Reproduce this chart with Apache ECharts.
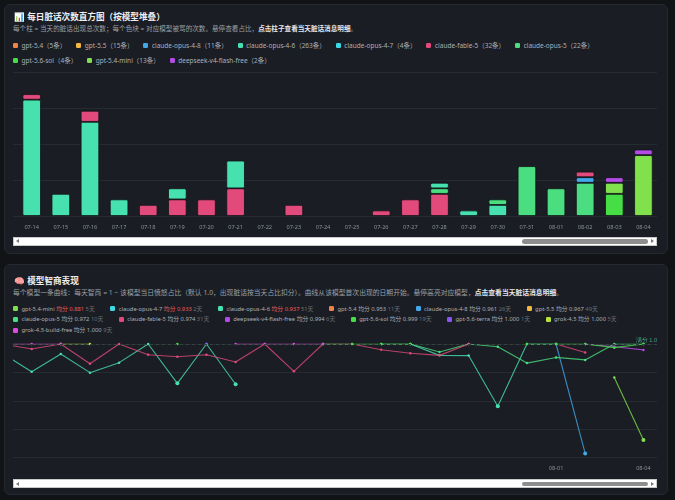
<!DOCTYPE html>
<html>
<head>
<meta charset="utf-8" />
<title>每日脏话与模型智商</title>
<script src="https://cdn.jsdelivr.net/npm/echarts@6/dist/echarts.min.js"></script>
<style>
  body { margin: 0; width: 675px; height: 500px; background: #111317; position: relative; overflow: hidden;
         font-family: "Noto Sans", "Noto Sans CJK SC", sans-serif; }
  .panel { position: absolute; left: 4px; width: 662px; background: #1a1d23; border: 1px solid #252930; border-radius: 6px; }
  .title { position: absolute; left: 14px; font-size: 8.6px; line-height: 10px; font-weight: bold; color: #eceef1; white-space: nowrap; }
  .sub { position: absolute; left: 13px; font-size: 6.6px; line-height: 8px; color: #9aa0a8; white-space: nowrap; }
  .sub b { color: #e6e8eb; }
  .legend { position: absolute; left: 13px; width: 644px; display: flex; flex-wrap: wrap; color: #aab0b8; }
  .legend .it { display: inline-flex; align-items: center; white-space: nowrap; }
  .legend .sq { width: 5px; height: 5px; border-radius: 1.3px; margin-right: 3.5px; }
  .legend .bad { color: #ef5a5a; }
  .legend .days { color: #6a7078; }
  .clip { position: absolute; left: 13px; width: 644px; overflow: hidden; }
  .chart { position: absolute; left: -30px; top: 0; width: 680px; }
  .sb { position: absolute; left: 13px; width: 644px; background: #fff; border: 1px solid #c9c9c9; box-sizing: border-box; }
  .sb .thumb { position: absolute; left: 508px; width: 126px; background: #8e8e8e; border-radius: 3px; }
  .sb .al { position: absolute; left: 2px; width: 0; height: 0; border-top: 2.5px solid transparent; border-bottom: 2.5px solid transparent; border-right: 3px solid #777; }
  .sb .ar { position: absolute; right: 2px; width: 0; height: 0; border-top: 2.5px solid transparent; border-bottom: 2.5px solid transparent; border-left: 3px solid #777; }
</style>
</head>
<body>
  <div class="panel" style="top:4px; height:248px;"></div>
  <div class="panel" style="top:264px; height:229px;"></div>

  <div class="title" style="top:11.7px;">📊 每日脏话次数直方图（按模型堆叠）</div>
  <div class="sub" style="top:25.3px;">每个柱 = 当天的脏话出现总次数；每个色块 = 对应模型被骂的次数。悬停查看占比，<b>点击柱子查看当天脏话消息明细</b>。</div>
  <div class="legend" id="barLegend" style="top:37.5px; line-height:15px; font-size:6.5px;"></div>
  <div class="clip" style="top:62px; height:172px;"><div class="chart" id="bar" style="height:172px;"></div></div>
  <div class="sb" style="top:236.5px; height:9.5px;"><div class="al" style="top:1.7px"></div><div class="thumb" style="top:1.8px; height:4.5px;"></div><div class="ar" style="top:1.7px"></div></div>

  <div class="title" style="top:275.7px;">🧠 模型智商表现</div>
  <div class="sub" style="top:289.3px; font-size:6.8px;">每个模型一条曲线：每天智商 = 1 − 该模型当日愤怒占比（默认 1.0，出现脏话按当天占比扣分）。曲线从该模型首次出现的日期开始。悬停高亮对应模型，<b>点击查看当天脏话消息明细</b>。</div>
  <div class="legend" id="lineLegend" style="top:303.6px; line-height:10.7px; font-size:5.8px;"></div>
  <div class="clip" style="top:332px; height:146px;"><div class="chart" id="line" style="height:146px;"></div></div>
  <div class="sb" style="top:479px; height:9px;"><div class="al" style="top:1.5px"></div><div class="thumb" style="top:1.6px; height:4.5px;"></div><div class="ar" style="top:1.5px"></div></div>

<script>
  // days (07-13 sits just off the left edge, the view is scrolled to the end)
  var dates = ['07-13', '07-14', '07-15', '07-16', '07-17', '07-18', '07-19', '07-20', '07-21', '07-22', '07-23', '07-24',
               '07-25', '07-26', '07-27', '07-28', '07-29', '07-30', '07-31', '08-01', '08-02', '08-03', '08-04']

  var modelNames = ['gpt-5.4', 'gpt-5.5', 'claude-opus-4-8', 'claude-opus-4-6', 'claude-opus-4-7', 'claude-fable-5',
                    'claude-opus-5', 'gpt-5.6-sol', 'gpt-5.4-mini', 'deepseek-v4-flash-free']
  var modelColors = ['#f0834a', '#f4b740', '#42a8e8', '#47e1b0', '#3fd9e4', '#e14a7a',
                     '#4ade80', '#45df45', '#80e14c', '#b44be6']
  var modelTotals = [5, 15, 11, 263, 4, 32, 22, 4, 13, 2]

  // swear counts per day
  var gpt54Count    = [null, 0, 0, 0, 0, 0, 0, 0, 0, 0, 0, 0, 0, 0, 0, 0, 0, 0, 0, 0, 0, 0, 0]
  var gpt55Count    = [null, 0, 0, 0, 0, 0, 0, 0, 0, 0, 0, 0, 0, 0, 0, 0, 0, 0, 0, 0, 0, 0, 0]
  var opus48Count   = [null, 0, 0, 0, 0, 0, 0, 0, 0, 0, 0, 0, 0, 0, 0, 0, 0, 0, 0, 0, 1, 0, 0]
  var opus46Count   = [null, 21, 4, 17, 3, 0, 2, 0, 5, 0, 0, 0, 0, 0, 0, 1, 1, 2, 0, 0, 0, 0, 0]
  var opus47Count   = [null, 0, 0, 0, 0, 0, 0, 0, 0, 0, 0, 0, 0, 0, 0, 0, 0, 0, 0, 0, 0, 0, 0]
  var fableCount    = [null, 1, 0, 2, 0, 2, 3, 3, 5, 0, 2, 0, 0, 1, 3, 4, 0, 0, 0, 0, 1, 0, 0]
  var opus5Count    = [null, 0, 0, 0, 0, 0, 0, 0, 0, 0, 0, 0, 0, 0, 0, 1, 0, 1, 9, 5, 6, 0, 0]
  var solCount      = [null, 0, 0, 0, 0, 0, 0, 0, 0, 0, 0, 0, 0, 0, 0, 0, 0, 0, 0, 0, 0, 4, 0]
  var miniCount     = [null, 0, 0, 0, 0, 0, 0, 0, 0, 0, 0, 0, 0, 0, 0, 0, 0, 0, 0, 0, 0, 2, 11]
  var deepseekCount = [null, 0, 0, 0, 0, 0, 0, 0, 0, 0, 0, 0, 0, 0, 0, 0, 0, 0, 0, 0, 0, 1, 1]

  var counts = [gpt54Count, gpt55Count, opus48Count, opus46Count, opus47Count, fableCount,
                opus5Count, solCount, miniCount, deepseekCount]

  // IQ chart, legend is sorted by average
  var iqNames  = ['gpt-5.4-mini', 'claude-opus-4-7', 'claude-opus-4-6', 'gpt-5.4', 'claude-opus-4-8', 'gpt-5.5', 'claude-opus-5',
                  'claude-fable-5', 'deepseek-v4-flash-free', 'gpt-5.6-sol', 'gpt-5.6-terra', 'grok-4.5', 'grok-4.5-build-free']
  var iqColors = ['#80e14c', '#3fd9e4', '#47e1b0', '#f0834a', '#42a8e8', '#f4b740', '#4ade80',
                  '#e14a7a', '#b44be6', '#45df45', '#8b55f0', '#bce23c', '#df4be0']
  var iqAvg    = [0.881, 0.933, 0.937, 0.953, 0.961, 0.967, 0.972, 0.974, 0.994, 0.999, 1.000, 1.000, 1.000]
  var iqDays   = [5, 2, 51, 11, 26, 49, 10, 31, 6, 19, 1, 5, 9]

  var miniIq      = [null, null, null, null, null, null, null, null, null, null, null, null, null, null, null, null, null, null, null, null, null, 0.853, 0.578]
  var opus47Iq    = [null, null, null, null, null, null, null, null, null, null, null, null, null, null, null, null, null, null, null, null, null, null, null]
  var opus46Iq    = [0.958, 0.878, 0.956, 0.874, 0.918, 1.0, 0.827, 1.0, 0.823, null, null, null, null, null, 1.0, 0.950, 0.949, 0.726, 1.0, 1.0, null, null, null]
  var gpt54Iq     = [null, null, null, null, null, null, null, null, null, null, null, null, null, null, null, null, null, null, null, null, null, null, null]
  var opus48Iq    = [null, null, null, null, null, null, null, null, null, null, null, null, null, null, null, null, null, null, null, 1.0, 0.519, null, null]
  var gpt55Iq     = [null, null, null, null, null, null, null, null, null, null, null, null, null, null, null, null, null, null, null, null, null, null, null]
  var opus5Iq     = [null, null, null, null, null, null, null, null, null, null, null, null, null, 1.0, 1.0, 0.965, 1.0, 0.988, 0.916, 0.941, 0.930, 1.0, 1.0]
  var fableIq     = [1.0, 0.978, 1.0, 0.913, 1.0, 0.953, 0.944, 0.953, 0.921, 1.0, 0.880, 1.0, 1.0, 0.975, 0.959, 0.950, 1.0, null, null, 1.0, 0.963, null, null]
  var deepseekIq  = [null, null, null, null, null, null, null, null, null, null, null, null, null, null, null, null, null, null, null, null, 1.0, 0.988, 0.974]
  var solIq       = [null, null, null, null, null, null, 1.0, null, null, null, null, 1.0, 1.0, 1.0, 1.0, null, null, null, 1.0, 1.0, 1.0, 0.984, 1.0]
  var terraIq     = [null, null, null, null, null, null, null, 1.0, null, null, null, null, null, null, null, null, null, null, null, null, null, null, null]
  var grok45Iq    = [null, null, 1.0, 1.0, null, null, null, null, null, null, null, null, null, null, null, null, null, null, null, null, null, null, null]
  var buildFreeIq = [1.0, 1.0, 1.0, null, null, null, null, null, 1.0, 1.0, 1.0, 1.0, null, null, null, null, null, null, null, null, null, null, null]

  var iqData = [miniIq, opus47Iq, opus46Iq, gpt54Iq, opus48Iq, gpt55Iq, opus5Iq, fableIq, deepseekIq, solIq, terraIq, grok45Iq, buildFreeIq]

  // legends
  var barLegend = document.getElementById('barLegend')
  modelNames.forEach(function (n, i) {
    barLegend.innerHTML += '<span class="it" style="margin-right:10px"><span class="sq" style="background:' + modelColors[i] + '"></span>' +
      n + '（' + modelTotals[i] + '条）</span>'
  })
  var lineLegend = document.getElementById('lineLegend')
  iqNames.forEach(function (n, i) {
    lineLegend.innerHTML += '<span class="it" style="margin-right:15.5px"><span class="sq" style="background:' + iqColors[i] + '"></span>' +
      n + '&nbsp;<span class="' + (iqAvg[i] < 0.95 ? 'bad' : '') + '">均分 ' + iqAvg[i].toFixed(3) + '</span>&nbsp;<span class="days">' + iqDays[i] + '天</span></span>'
  })

  // stacked bars: each day is sorted, biggest block at the bottom
  var layers = []
  dates.forEach(function (d, i) {
    var today = []
    counts.forEach(function (arr, m) { if (arr[i] > 0) today.push(m) })
    today.sort(function (a, b) { return counts[b][i] - counts[a][i] || modelTotals[a] - modelTotals[b] })
    today.forEach(function (m, j) {
      if (!layers[j]) layers[j] = dates.map(function () { return null })
      layers[j][i] = { value: counts[m][i], name: modelNames[m], itemStyle: { color: modelColors[m] } }
    })
  })

  var barSeries = layers.map(function (l) {
    return {
      type: 'bar', stack: 'total', data: l, barWidth: 18.5,
      itemStyle: { borderColor: '#121419', borderWidth: 0.8, borderRadius: 1.5 }
    }
  })

  var axisLabelStyle = { color: '#8c9299', fontSize: 5.6, fontFamily: 'Noto Sans' }

  var barChart = echarts.init(document.getElementById('bar'))
  barChart.setOption({
    animation: false,
    grid: { left: 5, right: 5, top: 10, bottom: 18 },
    xAxis: {
      type: 'category', data: dates,
      axisLine: { show: false }, axisTick: { show: false },
      axisLabel: Object.assign({ margin: 8, interval: function (i) { return i > 0 } }, axisLabelStyle)
    },
    yAxis: {
      type: 'value', min: 0, max: 26, interval: 6.5,
      axisLabel: { show: false },
      splitLine: { lineStyle: { color: '#262a31', width: 1 } }
    },
    series: barSeries
  })

  var lineSeries = iqData.map(function (arr, i) {
    var s = {
      type: 'line', name: iqNames[i], data: arr, connectNulls: false, showAllSymbol: true,
      symbol: 'circle',
      symbolSize: function (v) { return v < 0.85 ? 4 : 2.5 },
      lineStyle: { width: 1.1, color: iqColors[i], opacity: 0.8 },
      itemStyle: { color: iqColors[i] }
    }
    if (iqNames[i] === 'claude-fable-5') {
      s.markLine = {
        silent: true, symbol: 'none',
        lineStyle: { type: [3, 3], color: '#34423d', width: 1 },
        label: { formatter: '满分 1.0', position: 'insideEndTop', color: '#47a78a', fontSize: 5.6, distance: 1 },
        data: [{ yAxis: 1 }]
      }
    }
    return s
  })

  var lineChart = echarts.init(document.getElementById('line'))
  lineChart.setOption({
    animation: false,
    grid: { left: 5, right: 5, top: 12, bottom: 20.3 },
    xAxis: {
      type: 'category', data: dates, boundaryGap: true,
      axisLine: { show: false }, axisTick: { show: false },
      axisLabel: Object.assign({
        margin: 8,
        interval: function (i, v) { return v.slice(3) === '01' || i === dates.length - 1 }
      }, axisLabelStyle)
    },
    yAxis: {
      type: 'value', min: 0.5, max: 1, interval: 0.125,
      axisLabel: { show: false },
      splitLine: { lineStyle: { color: '#262a31', width: 1 } }
    },
    series: lineSeries
  })
</script>
</body>
</html>
